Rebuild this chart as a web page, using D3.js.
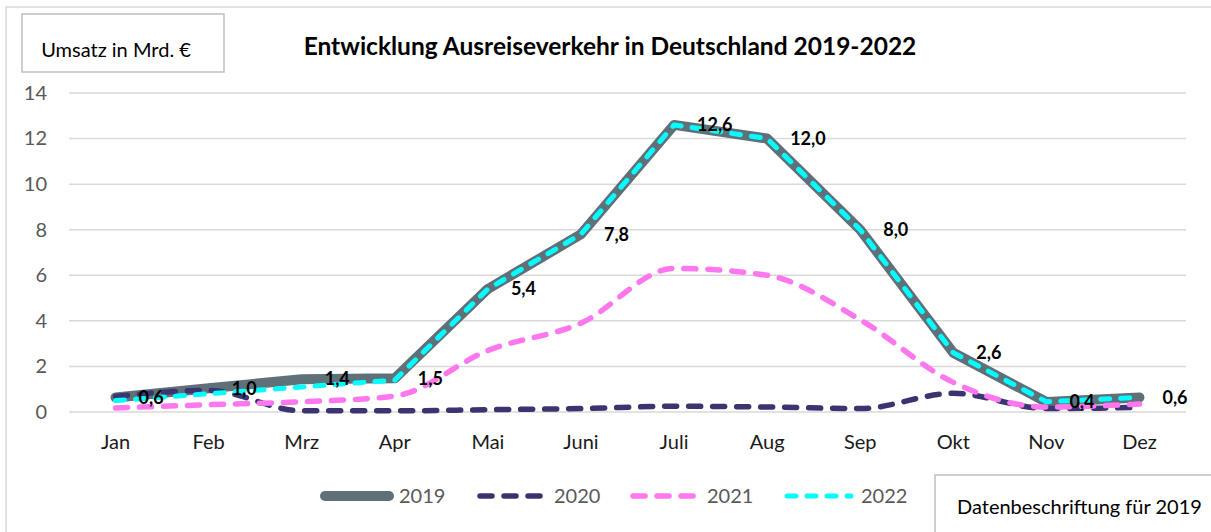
<!DOCTYPE html>
<html>
<head>
<meta charset="utf-8">
<script src="https://cdn.jsdelivr.net/npm/d3@7"></script>
<style>
  body { margin: 0; background: #fff; }
  svg { display: block; font-family: Lato, "Open Sans", sans-serif; }
</style>
</head>
<body>
<div id="chart"></div>
<script>
// months and series (Umsatz in Mrd. €)
var months = ["Jan", "Feb", "Mrz", "Apr", "Mai", "Juni", "Juli", "Aug", "Sep", "Okt", "Nov", "Dez"];
var years = ["2019", "2020", "2021", "2022"];
var v2019 = [0.64, 1.04, 1.44, 1.48, 5.4, 7.8, 12.6, 12.0, 8.0, 2.6, 0.44, 0.64];
var v2020 = [0.68, 0.95, 0.05, 0.05, 0.1, 0.15, 0.25, 0.22, 0.15, 0.82, 0.15, 0.2];
var v2021 = [0.18, 0.32, 0.45, 0.7, 2.7, 3.9, 6.3, 6.0, 4.05, 1.3, 0.22, 0.35];
var v2022 = [0.5, 0.8, 1.1, 1.4, 5.4, 7.8, 12.6, 12.0, 8.0, 2.6, 0.45, 0.64];
var yTicks = [0, 2, 4, 6, 8, 10, 12, 14];

var width = 1211, height = 532;

var svg = d3.select("#chart").append("svg")
    .attr("width", width)
    .attr("height", height);

// outer chart frame (runs past the window on the right and bottom)
svg.append("rect")
    .attr("x", 6).attr("y", 7)
    .attr("width", 1230).attr("height", 560)
    .attr("fill", "none")
    .attr("stroke", "#d9d9d9")
    .attr("stroke-width", 1.5);

// scales
var x = d3.scaleBand().domain(months).range([69, 1186]);
var y = d3.scaleLinear().domain([0, 14]).range([412, 93]);
var cx = function(m) { return x(m) + x.bandwidth() / 2; };

// gridlines
svg.append("g")
  .selectAll("line")
  .data(yTicks)
  .enter()
  .append("line")
    .attr("x1", 69).attr("x2", 1186)
    .attr("y1", function(d) { return y(d); })
    .attr("y2", function(d) { return y(d); })
    .attr("stroke", "#d9d9d9")
    .attr("stroke-width", 1.5);

// y axis labels
var yAxis = svg.append("g")
    .attr("transform", "translate(47,0)")
    .call(d3.axisLeft(y).tickValues(yTicks).tickSize(0).tickPadding(0));
yAxis.select(".domain").remove();
yAxis.selectAll("text")
    .style("font-family", "Lato, sans-serif")
    .style("font-size", "20px")
    .attr("fill", "#595959");

// x axis labels
var xAxis = svg.append("g")
    .attr("transform", "translate(0,435)")
    .call(d3.axisBottom(x).tickSize(0).tickPadding(0));
xAxis.select(".domain").remove();
xAxis.selectAll("text")
    .style("font-family", "Lato, sans-serif")
    .style("font-size", "20px")
    .attr("fill", "#1a1a1a");

// line styles per year
var styles = {
  "2019": { color: "#607078", width: 10, dash: null, curve: d3.curveLinear },
  "2020": { color: "#3b3470", width: 5.5, dash: "12,12", curve: d3.curveMonotoneX },
  "2021": { color: "#ff77ee", width: 5.5, dash: "12,12", curve: d3.curveMonotoneX },
  "2022": { color: "#00ffff", width: 5, dash: "9,11", curve: d3.curveLinear }
};
var seriesData = { "2019": v2019, "2020": v2020, "2021": v2021, "2022": v2022 };

years.forEach(function(yr) {
  var st = styles[yr];
  var line = d3.line()
    .x(function(d, i) { return cx(months[i]); })
    .y(function(d) { return y(d); })
    .curve(st.curve);
  svg.append("path")
    .datum(seriesData[yr])
    .attr("d", line)
    .attr("fill", "none")
    .attr("stroke", st.color)
    .attr("stroke-width", st.width)
    .attr("stroke-linecap", "round")
    .attr("stroke-linejoin", "round")
    .attr("stroke-dasharray", st.dash);
});

// data labels for 2019
svg.append("g")
  .selectAll("text")
  .data(v2019)
  .enter()
  .append("text")
    .attr("x", function(d, i) { return cx(months[i]) + 23; })
    .attr("y", function(d) { return y(d); })
    .attr("dy", "0.35em")
    .style("font-size", "18px")
    .style("font-weight", "bold")
    .attr("fill", "#000")
    .text(function(d) { return d3.format(".1f")(d).replace(".", ","); });

// title
svg.append("text")
    .attr("x", 610).attr("y", 55)
    .attr("text-anchor", "middle")
    .style("font-size", "24.5px")
    .style("font-weight", "bold")
    .attr("fill", "#000")
    .text("Entwicklung Ausreiseverkehr in Deutschland 2019-2022");

// y axis title box
svg.append("rect")
    .attr("x", 22).attr("y", 14)
    .attr("width", 202).attr("height", 58)
    .attr("fill", "#fff")
    .attr("stroke", "#bfbfbf")
    .attr("stroke-width", 1.5);
svg.append("text")
    .attr("x", 116).attr("y", 57)
    .attr("text-anchor", "middle")
    .style("font-size", "20px")
    .attr("fill", "#000")
    .text("Umsatz in Mrd. €");

// legend
var legendPos = [
  { yr: "2019", x: 321 },
  { yr: "2020", x: 476 },
  { yr: "2021", x: 629 },
  { yr: "2022", x: 783 }
];
var lg = svg.append("g").selectAll("g")
  .data(legendPos)
  .enter()
  .append("g")
    .attr("transform", function(d) { return "translate(" + d.x + ",496)"; });
lg.append("line")
    .attr("x1", 4).attr("x2", 68)
    .attr("stroke", function(d) { return styles[d.yr].color; })
    .attr("stroke-width", function(d) { return styles[d.yr].width; })
    .attr("stroke-linecap", "round")
    .attr("stroke-dasharray", function(d) { return styles[d.yr].dash; });
lg.append("text")
    .attr("x", 78)
    .attr("dy", "0.35em")
    .style("font-size", "20px")
    .attr("fill", "#595959")
    .text(function(d) { return d.yr; });

// note box bottom right
svg.append("rect")
    .attr("x", 935).attr("y", 475)
    .attr("width", 300).attr("height", 80)
    .attr("fill", "#fff")
    .attr("stroke", "#bfbfbf")
    .attr("stroke-width", 1.5);
svg.append("text")
    .attr("x", 957).attr("y", 514)
    .style("font-size", "20px")
    .attr("fill", "#000")
    .text("Datenbeschriftung für 2019");
</script>
</body>
</html>
